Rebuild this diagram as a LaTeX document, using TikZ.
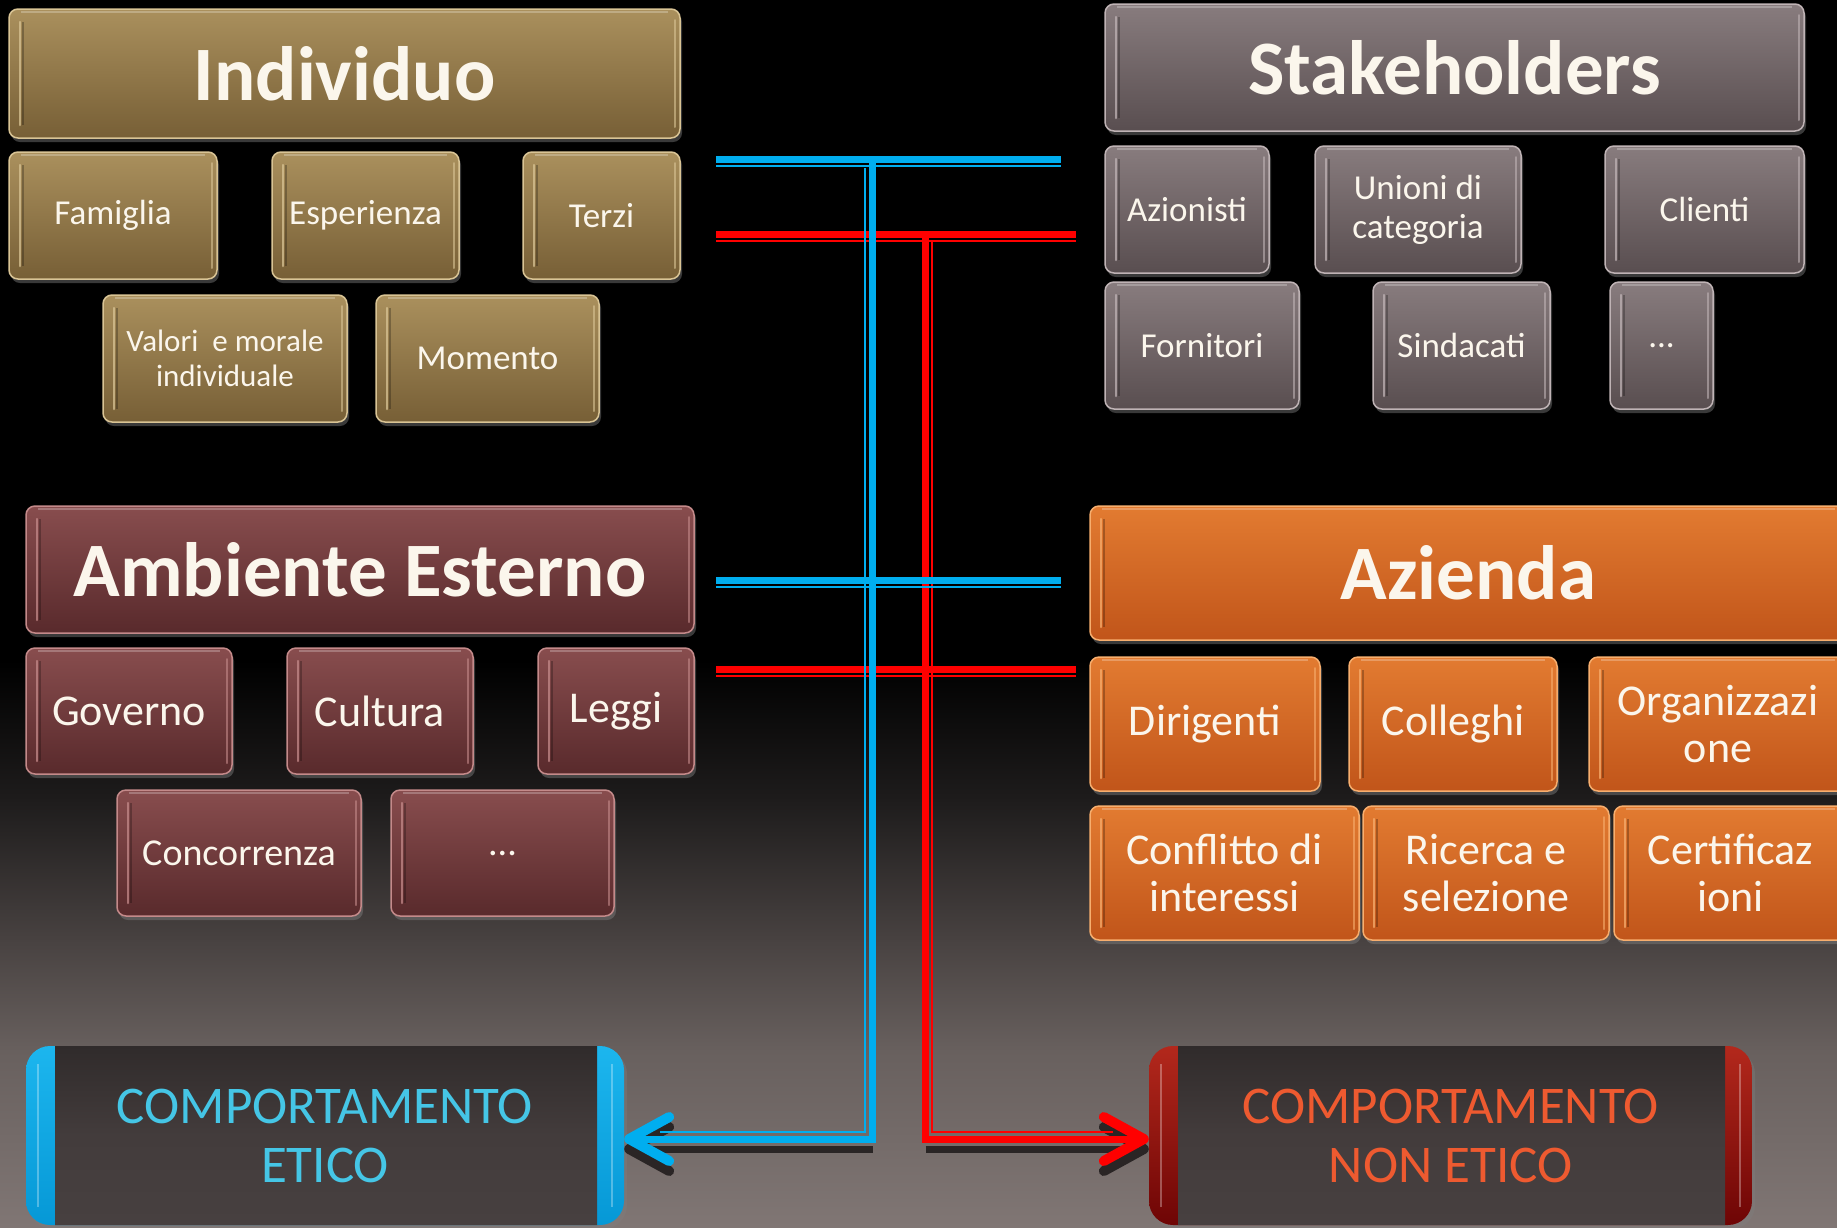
\documentclass[tikz,border=0pt]{standalone}
\usepackage{fontspec}
\setmainfont{Carlito}
\usetikzlibrary{arrows.meta,shadows,calc}

\definecolor{goldT}{HTML}{AA905D}
\definecolor{goldB}{HTML}{775F36}
\definecolor{goldR}{HTML}{D9C495}
\definecolor{mauT}{HTML}{887C7E}
\definecolor{mauB}{HTML}{594E50}
\definecolor{mauR}{HTML}{BFB3B5}
\definecolor{marT}{HTML}{884D4E}
\definecolor{marB}{HTML}{592A2C}
\definecolor{marR}{HTML}{C48A8A}
\definecolor{orT}{HTML}{E27B31}
\definecolor{orB}{HTML}{C1551A}
\definecolor{orR}{HTML}{F7AE6E}
\definecolor{lblue}{HTML}{00AEEF}
\definecolor{lred}{HTML}{FF0000}
\definecolor{txt}{HTML}{FBF6EC}
\definecolor{etc}{HTML}{45C6E6}
\definecolor{netc}{HTML}{EE5A30}
\definecolor{bodyT}{HTML}{302B2B}
\definecolor{bodyM}{HTML}{433C3C}
\definecolor{bodyB}{HTML}{474040}
\definecolor{shd}{HTML}{2A2525}
\definecolor{capBT}{HTML}{1CB6EE}
\definecolor{capBB}{HTML}{0698D6}
\definecolor{capRT}{HTML}{B3281C}
\definecolor{capRB}{HTML}{6E0505}
\definecolor{bg1}{RGB}{30,28,28}
\definecolor{bg2}{RGB}{72,66,65}
\definecolor{bg3}{RGB}{104,96,94}
\definecolor{bg4}{RGB}{128,118,116}

\newcommand\gbox[7]{\node[#1, minimum width={#5-#3}, minimum height={#6-#4}] (#2) at ({(#3+#5)/2},{(#4+#6)/2}) {#7};}

\tikzset{
  gl/.style n args={3}{rounded corners=9pt, top color=#1, bottom color=#2, draw=#3, line width=1.5pt,
    text=txt, align=center, inner sep=2pt,
    drop shadow={opacity=.45, shadow xshift=2pt, shadow yshift=-4pt},
    path picture={
      \draw[#3, line width=2.5pt, opacity=.75, line cap=round]
        ([shift={(11pt,-13pt)}]path picture bounding box.north west) --
        ([shift={(11pt,13pt)}]path picture bounding box.south west);
      \draw[black, opacity=.25, line width=1.5pt]
        ([shift={(14pt,-13pt)}]path picture bounding box.north west) --
        ([shift={(14pt,13pt)}]path picture bounding box.south west);
      \draw[#3, line width=2pt, opacity=.6, line cap=round]
        ([shift={(-5pt,-11pt)}]path picture bounding box.north east) --
        ([shift={(-5pt,11pt)}]path picture bounding box.south east);
      \draw[white, line width=2pt, opacity=.25]
        ([shift={(12pt,-3pt)}]path picture bounding box.north west) --
        ([shift={(-12pt,-3pt)}]path picture bounding box.north east);
    }},
  gold/.style={gl={goldT}{goldB}{goldR}},
  mauve/.style={gl={mauT}{mauB}{mauR}},
  maroon/.style={gl={marT}{marB}{marR}},
  orange/.style={gl={orT}{orB}{orR}},
  title/.style={font=\bfseries\fontsize{77}{80}\selectfont},
  sm/.style={font=\fontsize{35}{39}\selectfont},
  val/.style={font=\fontsize{31}{35}\selectfont},
  md/.style={font=\fontsize{44}{47}\selectfont},
  capbox/.style n args={3}{rounded corners=24pt, top color=#1, bottom color=#2, draw=none,
    align=center, text=#3, font=\fontsize{53}{59}\selectfont,
    drop shadow={opacity=.35, shadow xshift=3pt, shadow yshift=-4pt},
    path picture={
      \fill[sharp corners, top color=bodyT, bottom color=bodyB, middle color=bodyM]
        ([xshift=29pt]path picture bounding box.north west) rectangle
        ([xshift=-27pt]path picture bounding box.south east);
      \draw[sharp corners, white, opacity=.3, line width=2pt]
        ([shift={(12pt,-18pt)}]path picture bounding box.north west) --
        ([shift={(12pt,18pt)}]path picture bounding box.south west);
      \draw[sharp corners, white, opacity=.3, line width=2pt]
        ([shift={(-12pt,-18pt)}]path picture bounding box.north east) --
        ([shift={(-12pt,18pt)}]path picture bounding box.south east);
    }},
  bl/.style={draw=lblue, line width=7pt},
  blt/.style={draw=lblue, line width=2pt},
  rl/.style={draw=lred, line width=7pt},
  rlt/.style={draw=lred, line width=2pt},
  sh/.style={draw=shd, line width=7pt},
  barb/.style={-{Straight Barb[length=40pt, width=44pt, line width=10pt, round]}},
}

\begin{document}
\begin{tikzpicture}[x=1pt, y=-1pt]
\useasboundingbox (0,0) rectangle (1837,1227);
% background
\fill[black] (0,0) rectangle (1837,661);
\shade[top color=black, bottom color=bg1] (0,660) rectangle (1837,801);
\shade[top color=bg1, bottom color=bg2] (0,800) rectangle (1837,941);
\shade[top color=bg2, bottom color=bg3] (0,940) rectangle (1837,1051);
\shade[top color=bg3, bottom color=bg4] (0,1050) rectangle (1837,1227);

% Individuo group
\gbox{gold,title}{indiv}{9}{9}{680}{138}{Individuo}
\gbox{gold,sm}{famiglia}{9}{152}{217}{279}{Famiglia}
\gbox{gold,sm}{esperienza}{272}{152}{459}{279}{Esperienza}
\gbox{gold,sm}{terzi}{523}{152}{680}{279}{Terzi}
\gbox{gold,val}{valori}{103}{295}{347}{422}{Valori\ \ e morale\\individuale}
\gbox{gold,sm}{momento}{376}{295}{599}{422}{Momento}

% Stakeholders group
\gbox{mauve,title}{stake}{1105}{4}{1804}{131}{Stakeholders}
\gbox{mauve,sm}{azionisti}{1105}{146}{1269}{273}{Azionisti}
\gbox{mauve,sm}{unioni}{1315}{146}{1521}{273}{Unioni di\\categoria}
\gbox{mauve,sm}{clienti}{1605}{146}{1804}{273}{Clienti}
\gbox{mauve,sm}{fornitori}{1105}{282}{1299}{409}{Fornitori}
\gbox{mauve,sm}{sindacati}{1373}{282}{1550}{409}{Sindacati}
\gbox{mauve,sm}{dotsA}{1610}{282}{1713}{409}{...}

% Ambiente Esterno group
\gbox{maroon,title}{ambiente}{26}{506}{694}{633}{Ambiente Esterno}
\gbox{maroon,md}{governo}{26}{648}{232}{774}{Governo}
\gbox{maroon,md}{cultura}{287}{648}{473}{774}{Cultura}
\gbox{maroon,md}{leggi}{538}{648}{694}{774}{Leggi}
\gbox{maroon,md}{concorrenza}{117}{790}{361}{916}{\fontsize{38}{42}\selectfont Concorrenza}
\gbox{maroon,md}{dotsB}{391}{790}{614}{916}{\fontsize{38}{42}\selectfont ...}

% Azienda group
\gbox{orange,title}{azienda}{1090}{506}{1847}{640}{Azienda}
\gbox{orange,md}{dirigenti}{1090}{657}{1320}{791}{Dirigenti}
\gbox{orange,md}{colleghi}{1349}{657}{1557}{791}{Colleghi}
\gbox{orange,md}{organizzazione}{1589}{657}{1847}{791}{Organizzazi\\one}
\gbox{orange,md}{conflitto}{1090}{806}{1359}{940}{Conflitto di\\interessi}
\gbox{orange,md}{ricerca}{1363}{806}{1609}{940}{Ricerca e\\selezione}
\gbox{orange,md}{certificazioni}{1614}{806}{1847}{940}{Certificaz\\ioni}

% Outcome boxes
\gbox{capbox={capBT}{capBB}{etc}}{etico}{26}{1046}{624}{1225}{COMPORTAMENTO\\ETICO}
\gbox{capbox={capRT}{capRB}{netc}}{nonetico}{1149}{1046}{1752}{1225}{COMPORTAMENTO\\NON ETICO}

% connector coordinates
\coordinate (b1L) at (716,159.5);  \coordinate (b1R) at (1061,159.5);
\coordinate (r1L) at (716,234.5);  \coordinate (r1R) at (1076,234.5);
\coordinate (b2L) at (716,580);    \coordinate (b2R) at (1061,580);
\coordinate (r2L) at (716,669.5);  \coordinate (r2R) at (1076,669.5);
\coordinate (bTop) at (872.5,156); \coordinate (bCorner) at (872.5,1139);
\coordinate (rTop) at (925.5,238); \coordinate (rCorner) at (925.5,1139);

% shadows of the bottom legs
\begin{scope}[transform canvas={yshift=-10pt}]
\draw[sh, barb] (bCorner) -- (etico.east |- bCorner);
\draw[sh, barb] (rCorner) -- (nonetico.west |- rCorner);
\end{scope}

% red connectors
\draw[rl] (r1L) -- (r1R);
\draw[rlt] ($(r1L)+(0,6.5)$) -- ($(r1R)+(0,6.5)$);
\draw[rl] (r2L) -- (r2R);
\draw[rlt] ($(r2L)+(0,6.5)$) -- ($(r2R)+(0,6.5)$);
\draw[rlt] ($(rTop)+(6.5,4)$) -- ($(rCorner)+(6.5,-7)$) -- ($(nonetico.west |- rCorner)+(-36,-7)$);
\draw[rl, barb] (rTop) -- (rCorner) -- (nonetico.west |- rCorner);

% blue connectors
\draw[bl] (b1L) -- (b1R);
\draw[blt] ($(b1L)+(0,6.5)$) -- ($(b1R)+(0,6.5)$);
\draw[bl] (b2L) -- (b2R);
\draw[blt] ($(b2L)+(0,6.5)$) -- ($(b2R)+(0,6.5)$);
\draw[blt] ($(bTop)+(-7.5,12)$) -- ($(bCorner)+(-7.5,-7)$) -- ($(etico.east |- bCorner)+(36,-7)$);
\draw[bl, barb] (bTop) -- (bCorner) -- (etico.east |- bCorner);
\end{tikzpicture}
\end{document}
